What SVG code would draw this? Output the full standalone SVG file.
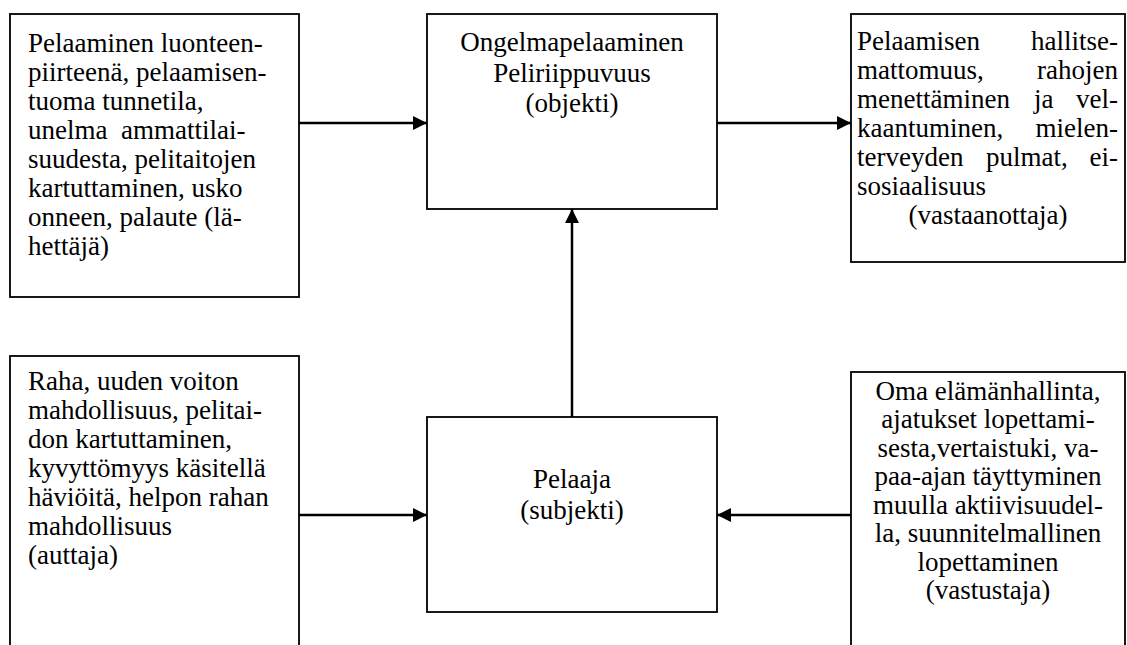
<svg xmlns="http://www.w3.org/2000/svg" width="1127" height="645" viewBox="0 0 1127 645">
<style>
.box{fill:#fff;stroke:#000;stroke-width:1.8}
.t{font-family:'Liberation Serif','Times New Roman',serif;font-size:27px;fill:#000}
.m{text-anchor:middle}
.e{text-anchor:end}
.c{stroke:#000;stroke-width:2.5;fill:none}
</style>
<defs>
<marker id="ah" markerWidth="14" markerHeight="14" refX="14" refY="7" orient="auto" markerUnits="userSpaceOnUse">
<path d="M0,0 L14,7 L0,14 z" fill="#000"/>
</marker>
</defs>
<rect width="1127" height="645" fill="#fff"/>
<g id="connectors">
<line class="c" x1="299" y1="123" x2="427" y2="123" marker-end="url(#ah)"/>
<line class="c" x1="717" y1="123" x2="851" y2="123" marker-end="url(#ah)"/>
<line class="c" x1="572" y1="417" x2="572" y2="209" marker-end="url(#ah)"/>
<line class="c" x1="299" y1="515" x2="427" y2="515" marker-end="url(#ah)"/>
<line class="c" x1="851" y1="515" x2="717" y2="515" marker-end="url(#ah)"/>
</g>
<g id="lahettaja">
<rect class="box" x="10" y="14" width="289" height="283"/>
<text class="t" x="28" y="52">Pelaaminen luonteen-</text>
<text class="t" x="28" y="81">piirteenä, pelaamisen-</text>
<text class="t" x="28" y="110">tuoma tunnetila,</text>
<text class="t" x="28" y="139" xml:space="preserve">unelma  ammattilai-</text>
<text class="t" x="28" y="168">suudesta, pelitaitojen</text>
<text class="t" x="28" y="197">kartuttaminen, usko</text>
<text class="t" x="28" y="226">onneen, palaute (lä-</text>
<text class="t" x="28" y="255">hettäjä)</text>
</g>
<g id="objekti">
<rect class="box" x="427" y="14" width="290" height="195"/>
<text class="t m" x="572" y="51">Ongelmapelaaminen</text>
<text class="t m" x="572" y="82">Peliriippuvuus</text>
<text class="t m" x="572" y="112">(objekti)</text>
</g>
<g id="vastaanottaja">
<rect class="box" x="851" y="14" width="274" height="248"/>
<text class="t" x="857" y="50">Pelaamisen</text><text class="t e" x="1118" y="50">hallitse-</text>
<text class="t" x="857" y="79">mattomuus,</text><text class="t e" x="1118" y="79">rahojen</text>
<text class="t" x="857" y="108">menettäminen</text><text class="t" x="1034" y="108">ja</text><text class="t e" x="1118" y="108">vel-</text>
<text class="t" x="857" y="137">kaantuminen,</text><text class="t e" x="1118" y="137">mielen-</text>
<text class="t" x="857" y="166">terveyden</text><text class="t" x="986" y="166">pulmat,</text><text class="t e" x="1118" y="166">ei-</text>
<text class="t" x="857" y="195">sosiaalisuus</text>
<text class="t m" x="988" y="224">(vastaanottaja)</text>
</g>
<g id="auttaja">
<rect class="box" x="10" y="356" width="289" height="300"/>
<text class="t" x="28" y="390">Raha, uuden voiton</text>
<text class="t" x="28" y="419">mahdollisuus, pelitai-</text>
<text class="t" x="28" y="448">don kartuttaminen,</text>
<text class="t" x="28" y="477">kyvyttömyys käsitellä</text>
<text class="t" x="28" y="506">häviöitä, helpon rahan</text>
<text class="t" x="28" y="535">mahdollisuus</text>
<text class="t" x="28" y="564">(auttaja)</text>
</g>
<g id="subjekti">
<rect class="box" x="427" y="417" width="290" height="195"/>
<text class="t m" x="572" y="488">Pelaaja</text>
<text class="t m" x="572" y="519">(subjekti)</text>
</g>
<g id="vastustaja">
<rect class="box" x="851" y="372" width="274" height="290"/>
<text class="t m" x="988" y="400">Oma elämänhallinta,</text>
<text class="t m" x="988" y="428">ajatukset lopettami-</text>
<text class="t m" x="988" y="457">sesta,vertaistuki, va-</text>
<text class="t m" x="988" y="485">paa-ajan täyttyminen</text>
<text class="t m" x="988" y="514">muulla aktiivisuudel-</text>
<text class="t m" x="988" y="542">la, suunnitelmallinen</text>
<text class="t m" x="988" y="571">lopettaminen</text>
<text class="t m" x="988" y="599">(vastustaja)</text>
</g>
</svg>
